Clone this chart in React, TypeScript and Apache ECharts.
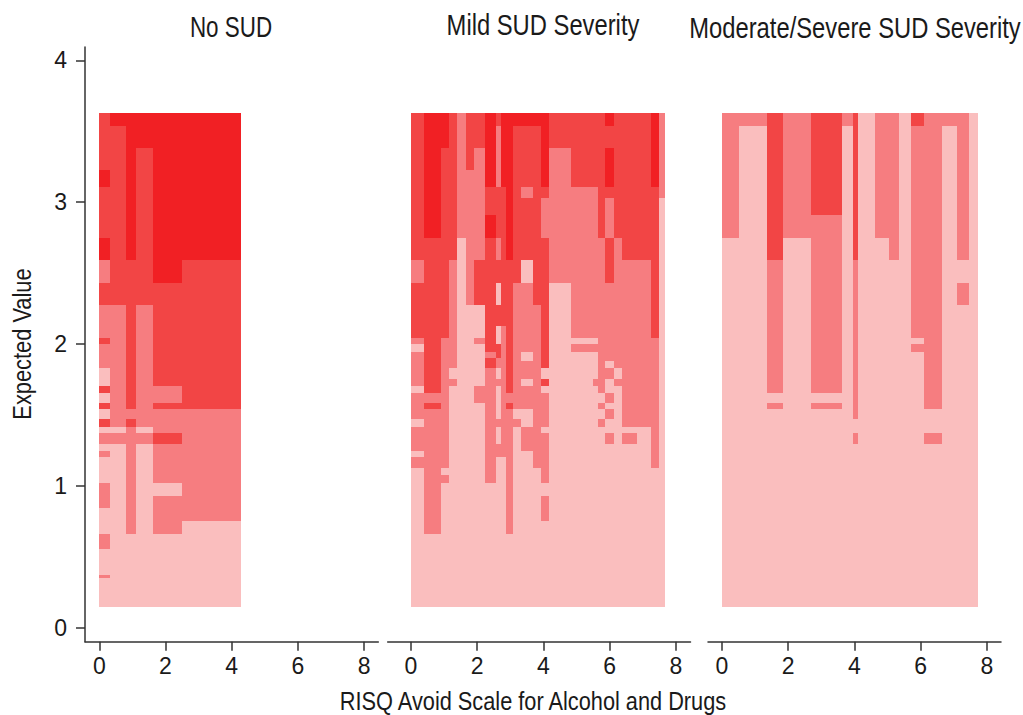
import React, { useEffect, useRef } from "react";
import * as echarts from "echarts";

const panelTitles = ["No SUD", "Mild SUD Severity", "Moderate/Severe SUD Severity"];
const xAxisTitle = "RISQ Avoid Scale for Alcohol and Drugs";
const yAxisTitle = "Expected Value";
const xTicks = [0, 2, 4, 6, 8];
const yTicks = [0, 1, 2, 3, 4];
const bottomValue = 0.147;
const levelColors = ["#FABEBE", "#F67D80", "#F24545", "#F12024"];

// Column edges on the x scale; each column is a flat list of: upper value, level, upper value, level...
const noSudEdges = [0, 0.323, 0.816, 1.109, 1.622, 2.489, 4.266];
const noSudColumns = [
  [3.63,2,3.228,3,3.11,2,2.75,3,2.593,1,2.432,2,2.275,1,2.044,2,2.0,1,1.833,0,1.706,2,1.652,0,1.586,2,1.541,0,1.471,2,1.414,0,1.37,1,1.292,0,1.245,1,1.203,0,1.022,1,0.843,0,0.66,1,0.554,0,0.37,1,0.349,0],
  [3.63,3,3.54,2,2.275,1,1.414,0,1.37,1,1.292,0],
  [3.63,3,2.593,2,1.541,1,1.471,2,1.414,1,0.66,0],
  [3.63,3,3.383,2,2.275,1,1.414,0,1.37,1,1.292,0],
  [3.63,3,2.432,2,1.706,1,1.586,2,1.541,1,1.37,2,1.292,1,1.022,0,0.93,1,0.66,0],
  [3.63,3,2.593,2,1.541,1,0.753,0],
];

const mildEdges = [0, 0.402, 0.906, 1.148, 1.399, 1.653, 1.903, 2.236, 2.568, 2.719, 2.87, 3.082, 3.323, 3.677, 3.918, 4.169, 4.834, 5.498, 5.65, 5.852, 6.124, 6.375, 6.819, 7.251, 7.492, 7.674];
const mildColumns = [
  [3.63,2,2.593,1,2.432,2,2.044,1,2.0,0,1.946,1,1.706,0,1.652,1,1.471,0,1.414,1,1.245,0,1.203,1,1.123,0],
  [3.63,3,2.75,2,1.652,1,1.586,2,1.541,1,0.66,0],
  [3.63,3,3.383,2,2.044,1,1.123,0,1.076,1,1.022,0],
  [3.63,2,2.593,1,1.833,0,1.753,1,1.706,0],
  [3.63,1,2.75,0],
  [3.63,2,3.228,1,2.275,0],
  [3.63,2,3.383,1,2.593,2,2.275,0,2.044,1,2.0,0,1.706,1,1.586,0],
  [3.63,3,3.11,2,2.91,3,2.75,2,1.946,1,1.899,2,1.833,1,1.022,0],
  [3.63,2,3.54,1,3.11,2,2.75,1,2.593,2,2.432,0,2.275,2,2.127,0,2.0,2,1.899,1,1.833,0,1.753,1,1.706,0,1.471,1,1.414,0,1.292,1,1.203,0],
  [3.63,3,3.11,2,2.127,1,1.203,0],
  [3.63,3,2.593,2,1.652,1,1.586,2,1.541,1,0.66,0],
  [3.63,3,3.54,2,2.432,1,1.541,0,1.471,1,1.414,0],
  [3.63,3,3.54,2,3.11,1,3.028,2,2.593,0,2.432,1,1.946,0,1.88,1,1.753,0,1.706,1,1.541,0,1.414,1,1.245,0],
  [3.63,3,3.54,2,2.275,1,1.123,0],
  [3.63,3,3.11,2,3.028,1,2.75,2,1.833,0,1.753,2,1.706,0,1.652,1,1.414,0,1.37,1,1.022,0,0.93,1,0.753,0],
  [3.63,2,3.383,1,2.432,0],
  [3.63,2,3.11,1,2.044,0,2.0,1,1.946,0],
  [3.63,2,3.11,1,2.044,0,2.0,1,1.946,0,1.753,1,1.706,0],
  [3.63,2,2.75,1,1.652,0,1.586,1,1.541,0,1.471,1,1.414,0],
  [3.63,3,3.54,2,3.383,3,3.11,2,3.028,1,2.75,2,2.432,1,1.88,0,1.833,1,1.753,0,1.652,1,1.586,0,1.541,1,1.471,0,1.37,1,1.292,0],
  [3.63,2,2.75,1,1.833,0,1.753,1,1.706,0],
  [3.63,2,2.593,1,1.414,0,1.37,1,1.292,0],
  [3.63,2,2.593,1,1.414,0],
  [3.63,3,3.11,2,2.044,1,1.123,0],
  [3.63,1,3.028,0],
];

const severeEdges = [0, 0.505, 1.35, 1.852, 2.689, 3.634, 3.949, 4.118, 4.622, 5.054, 5.347, 5.71, 6.094, 6.656, 7.1, 7.462, 7.734];
const severeColumns = [
  [3.63,1,2.75,0],
  [3.63,1,3.54,0],
  [3.63,2,2.593,1,1.652,0,1.586,1,1.541,0],
  [3.63,1,2.75,0],
  [3.63,2,2.91,1,1.652,0,1.586,1,1.541,0],
  [3.63,1,3.54,0],
  [3.63,2,2.593,1,1.471,0,1.37,1,1.292,0],
  [3.63,0],
  [3.63,1,2.75,0],
  [3.63,1,2.593,0],
  [3.63,0],
  [3.63,2,3.54,1,2.044,0,2.0,1,1.946,0],
  [3.63,1,1.541,0,1.37,1,1.292,0],
  [3.63,1,3.54,0],
  [3.63,1,2.593,0,2.432,1,2.275,0],
  [3.63,0],
];

const FONT = '"Liberation Sans", sans-serif';
const INK = "#1a1a1a";
const AXIS = "#333333";

function toCells(edges: number[], columns: number[][]) {
  const cells: number[][] = [];
  columns.forEach((col, c) => {
    for (let i = 0; i < col.length; i += 2) {
      const lower = i + 2 < col.length ? col[i + 2] : bottomValue;
      cells.push([edges[c], edges[c + 1], col[i], lower, col[i + 1]]);
    }
  });
  return cells;
}

const renderCell = (_: any, api: any) => {
  const a = api.coord([api.value(0), api.value(2)]);
  const b = api.coord([api.value(1), api.value(3)]);
  const x0 = Math.round(a[0]);
  const y0 = Math.round(a[1]);
  return {
    type: "rect",
    shape: { x: x0, y: y0, width: Math.round(b[0]) - x0, height: Math.round(b[1]) - y0 },
    style: { fill: levelColors[api.value(4)] },
  };
};

const narrowText = (text: string, x: number, y: number, size: number, scaleX: number, rotation = 0) => ({
  type: "text",
  x,
  y,
  scaleX,
  rotation,
  style: { text, align: "center", verticalAlign: "middle", font: `${size}px ${FONT}`, fill: INK },
});

export default function App() {
  const ref = useRef<HTMLDivElement>(null);
  useEffect(() => {
    const chart = echarts.init(ref.current!, null, { renderer: "svg" });
    const panels = [
      { left: 85, width: 293.3, min: -0.432, max: 8.429, cells: toCells(noSudEdges, noSudColumns), tx: 231, ty: 27, ts: 0.773 },
      { left: 387.7, width: 302.8, min: -0.704, max: 8.444, cells: toCells(mildEdges, mildColumns), tx: 543, ty: 25, ts: 0.82 },
      { left: 708, width: 293, min: -0.423, max: 8.429, cells: toCells(severeEdges, severeColumns), tx: 855, ty: 28, ts: 0.82 },
    ];
    chart.setOption({
      animation: false,
      grid: panels.map((p) => ({ left: p.left, width: p.width, top: 47, height: 594.7, outerBoundsMode: "none", containLabel: false })),
      xAxis: panels.map((p, i) => ({
        type: "value",
        gridIndex: i,
        min: p.min,
        max: p.max,
        splitLine: { show: false },
        axisLine: { show: true, onZero: false, lineStyle: { color: AXIS, width: 1.5 } },
        axisTick: { show: true, length: 9, customValues: xTicks, lineStyle: { color: AXIS, width: 1.5 } },
        axisLabel: { show: true, customValues: xTicks, margin: 13, fontFamily: FONT, fontSize: 23, color: INK, showMinLabel: true, showMaxLabel: true },
      })),
      yAxis: panels.map((_, i) => ({
        type: "value",
        gridIndex: i,
        min: -0.1,
        max: 4.095,
        show: i === 0,
        splitLine: { show: false },
        axisLine: { show: true, onZero: false, lineStyle: { color: AXIS, width: 1.5 } },
        axisTick: { show: true, length: 9, customValues: yTicks, lineStyle: { color: AXIS, width: 1.5 } },
        axisLabel: { show: true, customValues: yTicks, margin: 18, fontFamily: FONT, fontSize: 23, color: INK },
      })),
      graphic: [
        ...panels.map((p, i) => narrowText(panelTitles[i], p.tx, p.ty, 29, p.ts)),
        narrowText(xAxisTitle, 533, 701.5, 25, 0.87),
        narrowText(yAxisTitle, 22, 344, 26, 0.84, Math.PI / 2),
      ],
      series: panels.map((p, i) => ({
        type: "custom",
        xAxisIndex: i,
        yAxisIndex: i,
        clip: false,
        encode: { x: [0, 1], y: [2, 3] },
        data: p.cells,
        renderItem: renderCell,
      })),
    });
    return () => chart.dispose();
  }, []);
  return <div ref={ref} style={{ position: "absolute", left: 0, top: 0, width: 1023, height: 715 }} />;
}
